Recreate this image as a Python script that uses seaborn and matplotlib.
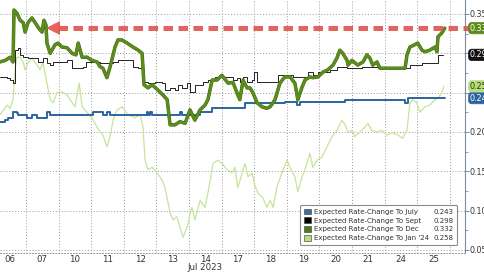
import matplotlib
matplotlib.use("Agg")
import matplotlib.pyplot as plt
import matplotlib.patheffects as pe
from matplotlib.patches import Patch
from matplotlib.ticker import FixedLocator, MultipleLocator, NullFormatter, FixedFormatter, FuncFormatter
import seaborn as sns
import pandas as pd

# ---- data (x = trading-day position, day k occupies [k, k+1]) ----
day_labels = ["06", "07", "10", "11", "12", "13", "14", "17", "18", "19", "20", "21", "24", "25"]

dec_t = [0.20, 0.36, 0.51, 0.60, 0.63, 0.72, 0.82, 0.91, 0.97, 1.06, 1.18, 1.28, 1.37, 1.49, 1.55, 1.61,
         1.64, 1.74, 1.89, 1.98, 2.10, 2.26, 2.41, 2.53, 2.60, 2.72, 2.87, 3.02, 3.18, 3.27, 3.36, 3.48,
         3.58, 3.73, 3.82, 3.94, 4.10, 4.28, 4.44, 4.56, 4.62, 4.74, 4.87, 5.05, 5.20, 5.33, 5.42, 5.57,
         5.72, 5.88, 6.03, 6.18, 6.34, 6.49, 6.58, 6.71, 6.86, 7.01, 7.20, 7.35, 7.47, 7.56, 7.66, 7.78,
         7.87, 7.96, 8.09, 8.24, 8.39, 8.49, 8.64, 8.79, 8.94, 9.10, 9.25, 9.34, 9.47, 9.56, 9.71, 9.80,
         9.96, 10.11, 10.26, 10.42, 10.54, 10.63, 10.72, 10.85, 10.88, 11.00, 11.09, 11.18, 11.34, 11.46,
         11.55, 11.64, 11.77, 11.86, 12.01, 12.23, 12.41, 12.63, 12.69, 12.78, 12.93, 13.02, 13.15, 13.24,
         13.39, 13.55, 13.61, 13.64, 13.76, 13.85]
dec_v = [0.289, 0.291, 0.295, 0.289, 0.355, 0.351, 0.342, 0.339, 0.327, 0.339, 0.345, 0.339, 0.333, 0.327, 0.342, 0.336,
         0.313, 0.300, 0.311, 0.313, 0.308, 0.307, 0.300, 0.298, 0.313, 0.295, 0.295, 0.291, 0.289, 0.283, 0.281, 0.269,
         0.283, 0.308, 0.317, 0.317, 0.313, 0.308, 0.304, 0.300, 0.260, 0.256, 0.260, 0.253, 0.247, 0.241, 0.209, 0.209,
         0.213, 0.211, 0.228, 0.215, 0.228, 0.234, 0.241, 0.266, 0.266, 0.272, 0.262, 0.263, 0.250, 0.241, 0.266, 0.256,
         0.256, 0.250, 0.237, 0.232, 0.230, 0.232, 0.241, 0.262, 0.270, 0.270, 0.262, 0.241, 0.257, 0.266, 0.270, 0.269,
         0.270, 0.276, 0.279, 0.285, 0.294, 0.304, 0.300, 0.291, 0.285, 0.291, 0.288, 0.285, 0.289, 0.298,
         0.294, 0.285, 0.289, 0.281, 0.281, 0.281, 0.281, 0.281, 0.298, 0.308, 0.311, 0.313, 0.304, 0.302,
         0.304, 0.308, 0.302, 0.321, 0.326, 0.332]

sep_t = [0.20, 0.42, 0.51, 0.60, 0.66, 0.75, 0.82, 0.91, 1.06, 1.21, 1.37, 1.52, 1.64, 1.74, 1.83, 2.04,
         2.26, 2.38, 2.41, 2.56, 2.75, 2.84, 3.02, 3.27, 3.48, 3.67, 3.82, 4.13, 4.28, 4.44, 4.59, 4.62,
         4.74, 4.96, 5.17, 5.26, 5.42, 5.57, 5.66, 5.79, 5.94, 6.03, 6.18, 6.34, 6.43, 6.58, 6.80, 7.01,
         7.20, 7.35, 7.47, 7.56, 7.66, 7.78, 7.93, 7.99, 8.09, 8.70, 8.73, 9.01, 9.19, 9.56, 9.65, 9.80,
         9.96, 10.17, 10.33, 10.54, 10.85, 11.18, 11.31, 11.80, 12.32, 12.72, 12.78, 13.15, 13.61, 13.64, 13.79]
sep_v = [0.270, 0.269, 0.266, 0.262, 0.304, 0.307, 0.298, 0.295, 0.294, 0.294, 0.289, 0.294, 0.288, 0.285, 0.289, 0.289,
         0.291, 0.291, 0.281, 0.281, 0.283, 0.289, 0.289, 0.288, 0.288, 0.289, 0.291, 0.291, 0.283, 0.281, 0.279, 0.263,
         0.262, 0.263, 0.262, 0.253, 0.256, 0.253, 0.260, 0.256, 0.262, 0.251, 0.260, 0.260, 0.263, 0.266, 0.270, 0.270,
         0.270, 0.266, 0.269, 0.263, 0.270, 0.263, 0.266, 0.276, 0.263, 0.263, 0.272, 0.272, 0.270, 0.270, 0.276, 0.272,
         0.276, 0.276, 0.279, 0.283, 0.281, 0.281, 0.283, 0.281, 0.281, 0.281, 0.285, 0.288, 0.288, 0.298, 0.298]

jul_t = [0.20, 0.36, 0.45, 0.60, 0.72, 0.75, 1.03, 1.18, 1.34, 1.64, 1.74, 3.06, 3.36, 3.48, 3.58, 4.71,
         4.74, 4.80, 4.87, 5.72, 5.79, 6.34, 6.71, 7.72, 8.94, 9.31, 9.41, 10.79, 12.63, 12.72, 13.85]
jul_v = [0.213, 0.215, 0.218, 0.225, 0.224, 0.222, 0.218, 0.222, 0.218, 0.225, 0.222, 0.225, 0.222, 0.225, 0.222, 0.225,
         0.222, 0.225, 0.222, 0.225, 0.222, 0.225, 0.230, 0.237, 0.238, 0.234, 0.238, 0.240, 0.237, 0.243, 0.243]

jan_t = [0.20, 0.42, 0.51, 0.60, 0.66, 0.72, 0.82, 0.91, 0.97, 1.06, 1.18, 1.34, 1.43, 1.52, 1.64, 1.74,
         1.83, 1.95, 2.10, 2.26, 2.35, 2.50, 2.63, 2.72, 2.87, 3.02, 3.18, 3.27, 3.36, 3.48, 3.58, 3.67,
         3.79, 3.94, 4.13, 4.34, 4.50, 4.59, 4.65, 4.74, 4.87, 5.02, 5.17, 5.26, 5.42, 5.51, 5.63, 5.72,
         5.82, 5.94, 6.09, 6.18, 6.34, 6.49, 6.58, 6.74, 6.89, 7.01, 7.17, 7.32, 7.41, 7.50, 7.63, 7.72,
         7.81, 7.93, 8.02, 8.12, 8.27, 8.39, 8.49, 8.58, 8.70, 8.85, 9.01, 9.10, 9.25, 9.34, 9.47, 9.56,
         9.71, 9.80, 9.93, 10.08, 10.23, 10.39, 10.54, 10.69, 10.79, 10.88, 11.00, 11.09, 11.25, 11.40, 11.49,
         11.61, 11.77, 11.92, 12.07, 12.23, 12.41, 12.56, 12.69, 12.78, 12.87, 12.99, 13.09, 13.24, 13.39,
         13.55, 13.64, 13.76, 13.82]
jan_v = [0.222, 0.234, 0.230, 0.241, 0.279, 0.295, 0.295, 0.289, 0.279, 0.288, 0.294, 0.285, 0.279, 0.288, 0.262, 0.241,
         0.237, 0.250, 0.251, 0.247, 0.241, 0.232, 0.262, 0.232, 0.225, 0.218, 0.206, 0.200, 0.196, 0.181, 0.194, 0.215,
         0.228, 0.232, 0.222, 0.218, 0.222, 0.206, 0.164, 0.152, 0.155, 0.148, 0.139, 0.130, 0.097, 0.088, 0.092, 0.079,
         0.066, 0.079, 0.104, 0.088, 0.113, 0.104, 0.122, 0.160, 0.164, 0.160, 0.152, 0.148, 0.155, 0.129, 0.148, 0.160,
         0.143, 0.148, 0.132, 0.122, 0.116, 0.104, 0.113, 0.104, 0.130, 0.148, 0.164, 0.155, 0.143, 0.124, 0.143, 0.152,
         0.173, 0.155, 0.164, 0.168, 0.181, 0.194, 0.202, 0.215, 0.209, 0.199, 0.202, 0.194, 0.200, 0.206, 0.211,
         0.202, 0.200, 0.202, 0.196, 0.199, 0.196, 0.192, 0.202, 0.237, 0.241, 0.237, 0.225, 0.232, 0.234,
         0.241, 0.243, 0.250, 0.258]

series_names = ["Expected Rate-Change To July", "Expected Rate-Change To Sept",
                "Expected Rate-Change To Dec", "Expected Rate-Change To Jan '24"]
last_values = [0.243, 0.298, 0.332, 0.258]
colors = ["#2c64a0", "#222222", "#5c8c1c", "#c6e49a"]
legend_colors = ["#3a6ea8", "#000000", "#4e7d18", "#b6de7c"]

arrow_level = 0.332
arrow_t = [1.98, 14.59]

# ---- figure ----
sns.set_style("white")
plt.rcParams["font.family"] = ["DejaVu Sans"]
fig = plt.figure(figsize=(4.85, 2.72), dpi=100)
ax = fig.add_axes([0.0, 19 / 272, 465 / 485, 253 / 272])

df_jan = pd.DataFrame({"t": jan_t, "v": jan_v})
df_sep = pd.DataFrame({"t": sep_t, "v": sep_v})
df_jul = pd.DataFrame({"t": jul_t, "v": jul_v})
df_dec = pd.DataFrame({"t": dec_t, "v": dec_v})

sns.lineplot(data=df_jan, x="t", y="v", ax=ax, color=colors[3], lw=0.9, estimator=None, sort=False, zorder=2)
sns.lineplot(data=df_sep, x="t", y="v", ax=ax, color=colors[1], lw=0.7, estimator=None, sort=False,
             drawstyle="steps-post", zorder=3)
sns.lineplot(data=df_jul, x="t", y="v", ax=ax, color=colors[0], lw=1.4, estimator=None, sort=False,
             drawstyle="steps-post", zorder=4)
sns.lineplot(data=df_dec, x="t", y="v", ax=ax, color=colors[2], lw=1.9, estimator=None, sort=False, zorder=5,
             path_effects=[pe.Stroke(linewidth=2.5, foreground="#3f6a10"), pe.Normal()])

# red dashed arrow
ax.plot(arrow_t, [arrow_level, arrow_level], color="#e2514d", lw=3.6, dashes=(1.9, 1.1),
        solid_capstyle="butt", dash_capstyle="butt", clip_on=False, zorder=6, alpha=0.9)
ax.plot([arrow_t[0] - 0.14], [arrow_level], marker="<", markersize=10, color="#e2514d",
        markeredgewidth=0, clip_on=False, zorder=6, alpha=0.9)

ax.set_xlim(0.2, 14.47)
ax.set_ylim(0.046, 0.3678)
ax.set_xlabel("")
ax.set_ylabel("")

# x axis: gridlines at day boundaries, labels at day centres
ax.xaxis.set_major_locator(FixedLocator(list(range(1, 15))))
ax.xaxis.set_major_formatter(NullFormatter())
ax.xaxis.set_minor_locator(FixedLocator([k + 0.5 for k in range(len(day_labels))]))
ax.xaxis.set_minor_formatter(FixedFormatter(day_labels))
ax.tick_params(axis="x", which="both", length=0, labelsize=6.2, labelcolor="#333333", pad=1.5)
ax.text(6.5, -0.057, "Jul 2023", transform=ax.get_xaxis_transform(), ha="center", va="center",
        fontsize=6.2, color="#333333")

# y axis on the right
ax.yaxis.tick_right()
ax.yaxis.set_major_locator(MultipleLocator(0.05))
ax.yaxis.set_minor_locator(MultipleLocator(0.025))
ax.yaxis.set_major_formatter(FuncFormatter(lambda v, p: f"{v:.3f}"))
ax.tick_params(axis="y", which="major", length=3, width=0.7, color="#7b8c9c", labelsize=5.8,
               labelcolor="#333333", pad=0.5)
ax.tick_params(axis="y", which="minor", length=2, width=0.6, color="#7b8c9c")

ax.grid(True, which="major", axis="both", color="#9a9a9a", lw=0.7, linestyle=(0, (1, 2)))
for s in ["left", "top"]:
    ax.spines[s].set_visible(False)
ax.spines["right"].set_color("#7b8c9c")
ax.spines["right"].set_linewidth(0.8)
ax.spines["bottom"].set_color("#9a9a9a")
ax.spines["bottom"].set_linewidth(0.7)
ax.spines["bottom"].set_linestyle((0, (1, 2)))

# last-value tags
tag_style = [("#2c64a0", "white"), ("#111111", "white"), ("#5c8c1c", "white"), ("#b6de7c", "#2a3a10")]
for val, (bg, fg) in zip(last_values, tag_style):
    ax.annotate(f"{val:.3f}", xy=(1.0, val), xycoords=("axes fraction", "data"),
                xytext=(3.5, 0), textcoords="offset points", ha="left", va="center",
                fontsize=5.8, color=fg, annotation_clip=False, zorder=10,
                bbox=dict(boxstyle="round,pad=0.15,rounding_size=0.4", fc=bg, ec=bg, lw=0.5))

# legend with names and values in two columns
handles = [Patch(facecolor=c, edgecolor="#333333", lw=0.4) for c in legend_colors]
handles += [Patch(facecolor="none", edgecolor="none") for _ in last_values]
labels = series_names + [f"{v:.3f}" for v in last_values]
leg = ax.legend(handles, labels, ncol=2, loc="lower right", bbox_to_anchor=(0.983, 0.032),
                borderaxespad=0, fontsize=5.0, frameon=True, fancybox=True,
                handlelength=0.9, handleheight=0.9, handletextpad=0.45, columnspacing=-0.7,
                labelspacing=0.35, borderpad=0.55, framealpha=1)
leg.get_frame().set_edgecolor("#8a8a8a")
leg.get_frame().set_linewidth(0.8)
for t in leg.get_texts():
    t.set_color("#333333")
leg.set_zorder(12)

fig.savefig("out.png", dpi=100, facecolor="white")
